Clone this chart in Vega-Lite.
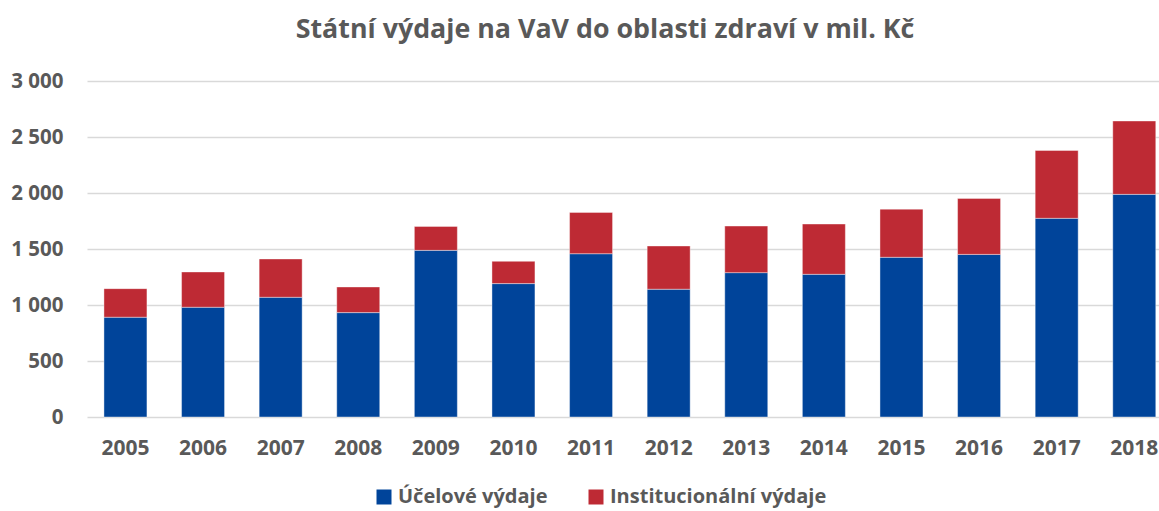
{
  "$schema": "https://vega.github.io/schema/vega-lite/v6.json",
  "autosize": "none",
  "width": 1072,
  "height": 336,
  "padding": {"left": 87, "top": 81, "right": 0, "bottom": 94},
  "background": "white",
  "title": {
    "text": "Státní výdaje na VaV do oblasti zdraví v mil. Kč",
    "font": "Open Sans",
    "fontSize": 26.8,
    "fontWeight": "bold",
    "color": "#595959",
    "anchor": "middle",
    "dx": -18,
    "offset": 27
  },
  "data": {
    "values": [
      {"rok": "2005", "typ": "Účelové výdaje", "poradi": 1, "hodnota": 891},
      {"rok": "2005", "typ": "Institucionální výdaje", "poradi": 2, "hodnota": 255},
      {"rok": "2006", "typ": "Účelové výdaje", "poradi": 1, "hodnota": 980},
      {"rok": "2006", "typ": "Institucionální výdaje", "poradi": 2, "hodnota": 315},
      {"rok": "2007", "typ": "Účelové výdaje", "poradi": 1, "hodnota": 1069},
      {"rok": "2007", "typ": "Institucionální výdaje", "poradi": 2, "hodnota": 342},
      {"rok": "2008", "typ": "Účelové výdaje", "poradi": 1, "hodnota": 932},
      {"rok": "2008", "typ": "Institucionální výdaje", "poradi": 2, "hodnota": 229},
      {"rok": "2009", "typ": "Účelové výdaje", "poradi": 1, "hodnota": 1488},
      {"rok": "2009", "typ": "Institucionální výdaje", "poradi": 2, "hodnota": 214},
      {"rok": "2010", "typ": "Účelové výdaje", "poradi": 1, "hodnota": 1191},
      {"rok": "2010", "typ": "Institucionální výdaje", "poradi": 2, "hodnota": 199},
      {"rok": "2011", "typ": "Účelové výdaje", "poradi": 1, "hodnota": 1458},
      {"rok": "2011", "typ": "Institucionální výdaje", "poradi": 2, "hodnota": 369},
      {"rok": "2012", "typ": "Účelové výdaje", "poradi": 1, "hodnota": 1141},
      {"rok": "2012", "typ": "Institucionální výdaje", "poradi": 2, "hodnota": 386},
      {"rok": "2013", "typ": "Účelové výdaje", "poradi": 1, "hodnota": 1289},
      {"rok": "2013", "typ": "Institucionální výdaje", "poradi": 2, "hodnota": 416},
      {"rok": "2014", "typ": "Účelové výdaje", "poradi": 1, "hodnota": 1274},
      {"rok": "2014", "typ": "Institucionální výdaje", "poradi": 2, "hodnota": 449},
      {"rok": "2015", "typ": "Účelové výdaje", "poradi": 1, "hodnota": 1426},
      {"rok": "2015", "typ": "Institucionální výdaje", "poradi": 2, "hodnota": 430},
      {"rok": "2016", "typ": "Účelové výdaje", "poradi": 1, "hodnota": 1452},
      {"rok": "2016", "typ": "Institucionální výdaje", "poradi": 2, "hodnota": 500},
      {"rok": "2017", "typ": "Účelové výdaje", "poradi": 1, "hodnota": 1774},
      {"rok": "2017", "typ": "Institucionální výdaje", "poradi": 2, "hodnota": 606},
      {"rok": "2018", "typ": "Účelové výdaje", "poradi": 1, "hodnota": 1988},
      {"rok": "2018", "typ": "Institucionální výdaje", "poradi": 2, "hodnota": 655}
    ]
  },
  "mark": {"type": "bar", "stroke": "#ffffff", "strokeWidth": 0.8, "strokeOpacity": 0.5},
  "encoding": {
    "x": {
      "field": "rok",
      "type": "ordinal",
      "scale": {"paddingInner": 0.446, "paddingOuter": 0.13, "align": 0.84},
      "axis": {
        "title": null,
        "labelAngle": 0,
        "domain": false,
        "ticks": false,
        "grid": false,
        "labelFont": "Open Sans",
        "labelFontSize": 21,
        "labelFontWeight": "bold",
        "labelColor": "#595959",
        "labelPadding": 20
      }
    },
    "y": {
      "field": "hodnota",
      "type": "quantitative",
      "stack": "zero",
      "scale": {"domain": [0, 3000], "nice": false},
      "axis": {
        "title": null,
        "values": [0, 500, 1000, 1500, 2000, 2500, 3000],
        "format": ",d",
        "labelExpr": "replace(datum.label, ',', ' ')",
        "domain": false,
        "ticks": false,
        "grid": true,
        "gridColor": "#D9D9D9",
        "gridWidth": 1.5,
        "labelFont": "Open Sans",
        "labelFontSize": 20.5,
        "labelFontWeight": "bold",
        "labelColor": "#595959",
        "labelPadding": 24
      }
    },
    "color": {
      "field": "typ",
      "type": "nominal",
      "scale": {
        "domain": ["Účelové výdaje", "Institucionální výdaje"],
        "range": ["#00449A", "#BE2A34"]
      },
      "legend": {
        "title": null,
        "orient": "none",
        "direction": "horizontal",
        "legendX": 287,
        "legendY": 406,
        "symbolType": "square",
        "symbolSize": 225,
        "symbolStrokeWidth": 0,
        "symbolOpacity": 1,
        "labelFont": "Open Sans",
        "labelFontSize": 20,
        "labelFontWeight": "bold",
        "labelColor": "#595959",
        "labelOffset": 4,
        "columnPadding": 38,
        "labelLimit": 400
      }
    },
    "order": {"field": "poradi", "type": "quantitative"}
  },
  "config": {"view": {"stroke": null}}
}
